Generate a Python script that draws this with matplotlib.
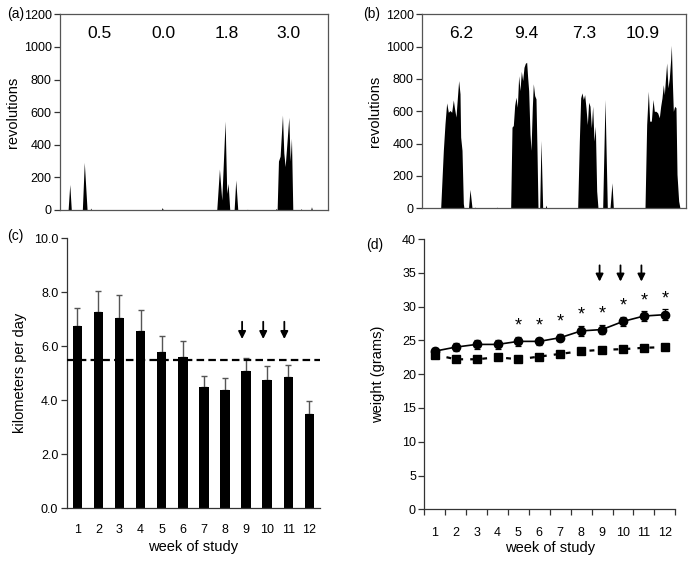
import matplotlib
matplotlib.use("Agg")
import matplotlib.pyplot as plt
import numpy as np

plt.rcParams["font.family"] = ["Liberation Sans", "DejaVu Sans"]

# (a) / (b): wheel revolutions over four days (outline vertices)
a_hours = [0, 2.9, 3.5, 4.05, 8.0, 8.7, 9.7, 10.8, 11.0, 11.3, 36.3, 36.6, 37.0,
           56.15, 57.11, 57.95, 59.14, 59.74, 60.22, 60.81, 62.37, 62.96, 63.68,
           66.9, 67.14, 67.4, 77.2, 77.42, 77.78, 78.26, 78.85, 79.69, 80.17, 80.65,
           81.24, 81.96, 82.44, 82.91, 83.39, 86.1, 86.38, 86.7, 89.8, 90.08, 90.4, 96]
a_revs = [0, 0, 157, 0, 0, 292, 0, 0, 12, 0, 0, 15, 0,
          0, 251, 61, 545, 102, 163, 0, 0, 184, 0,
          0, 5, 0, 0, 10, 0, 300, 330, 582, 350, 266,
          400, 568, 300, 440, 0, 0, 8, 0, 0, 20, 0, 0]
a_daily = ["0.5", "0.0", "1.8", "3.0"]
a_daily_at = [14.3, 36.9, 59.9, 81.7]

b_hours = [0, 6.79, 7.76, 8.36, 8.97, 9.58, 10.18, 10.79, 11.39, 11.76, 12.36, 12.85,
           13.33, 13.82, 14.06, 14.55, 15.03, 15.27, 16.9, 17.45, 18.2, 19.0, 19.3, 19.6,
           27.0, 27.2, 27.5,
           32.24, 32.73, 33.21, 33.70, 34.18, 34.67, 35.15, 35.64, 36.12, 36.61, 37.09,
           37.58, 38.06, 38.42, 38.79, 39.27, 39.64, 40.12, 40.48, 40.97, 41.45, 41.82,
           42.18, 42.79, 43.27, 43.88, 44.8, 45.1, 45.4,
           56.61, 57.21, 57.70, 58.18, 58.67, 59.15, 59.64, 60.12, 60.61, 61.09, 61.58,
           62.06, 62.55, 63.03, 63.52, 64.00, 65.70, 66.55, 67.39, 68.36, 69.09, 69.58,
           81.09, 81.70, 82.30, 82.79, 83.39, 84.00, 84.48, 85.09, 85.70, 86.30, 86.79,
           87.27, 87.76, 88.12, 88.61, 88.97, 89.45, 89.94, 90.42, 90.67, 91.03, 91.39,
           91.88, 92.36, 92.73, 93.33, 93.82, 96]
b_revs = [0, 0, 358, 522, 652, 594, 605, 594, 670, 625, 564, 680,
          790, 708, 440, 358, 29, 0, 0, 117, 0, 0, 8, 0,
          0, 8, 0,
          0, 502, 512, 636, 687, 625, 820, 728, 847, 790, 872,
          897, 903, 810, 728, 461, 358, 625, 770, 697, 677, 358,
          0, 0, 420, 0, 0, 20, 0,
          0, 415, 683, 714, 673, 703, 621, 518, 656, 631, 498,
          631, 415, 508, 107, 0, 0, 673, 0, 0, 158, 0,
          0, 518, 724, 539, 539, 673, 600, 600, 590, 560, 631,
          683, 765, 703, 817, 899, 745, 806, 920, 1008, 786, 600,
          631, 621, 210, 45, 0, 0]
b_daily = ["6.2", "9.4", "7.3", "10.9"]
b_daily_at = [14.2, 37.8, 58.8, 80.3]

# (c): running distance per week
weeks = np.arange(1, 13)
km_mean = [6.75, 7.27, 7.05, 6.57, 5.78, 5.62, 4.48, 4.37, 5.09, 4.74, 4.85, 3.49]
km_top = [7.43, 8.06, 7.91, 7.35, 6.37, 6.21, 4.90, 4.84, 5.58, 5.27, 5.32, 3.98]
km_reference = 5.49
arrow_weeks = [9, 10, 11]

# (d): body weight
wt_circle = [23.4, 24.0, 24.4, 24.4, 24.85, 24.85, 25.4, 26.4, 26.6, 27.8, 28.6, 28.8]
wt_circle_err = [0.4, 0.6, 0.7, 0.7, 0.7, 0.5, 0.5, 0.7, 0.7, 0.7, 0.7, 0.8]
wt_square = [22.9, 22.2, 22.2, 22.5, 22.2, 22.6, 23.0, 23.4, 23.6, 23.7, 23.9, 24.0]
star_weeks = [5, 6, 7, 8, 9, 10, 11, 12]

W, H = 692, 563
fig = plt.figure(figsize=(W / 100, H / 100), dpi=100)


def box(l, t, r, b):
    return [l / W, 1 - b / H, (r - l) / W, (b - t) / H]


spine_c = "#333333"
tick_fs = 9
lab_fs = 10.5


def activity(ax, hours, revs, daily, daily_at):
    ax.fill_between(hours, revs, 0, color="k", lw=0)
    ax.set_xlim(0, 96)
    ax.set_ylim(0, 1200)
    ax.set_xticks([])
    ax.set_yticks(range(0, 1201, 200))
    ax.tick_params(axis="y", direction="out", length=4, width=0.9, labelsize=tick_fs,
                   color=spine_c, pad=2)
    for s in ax.spines.values():
        s.set_color("#555555")
        s.set_linewidth(0.9)
    ax.set_ylabel("revolutions", fontsize=lab_fs, labelpad=3)
    for txt, x in zip(daily, daily_at):
        ax.text(x, 1080, txt, ha="center", va="center", fontsize=12.5)


ax_a = fig.add_axes(box(60, 14.3, 328, 210))
activity(ax_a, a_hours, a_revs, a_daily, a_daily_at)
ax_b = fig.add_axes(box(422, 14.3, 686, 208.3))
activity(ax_b, b_hours, b_revs, b_daily, b_daily_at)

arrow_props = dict(arrowstyle="-|>", color="k", lw=1.3, mutation_scale=11,
                   shrinkA=0, shrinkB=0)

# (c)
ax_c = fig.add_axes(box(66.7, 238.3, 320, 508.3))
err_c = np.array(km_top) - np.array(km_mean)
ax_c.bar(weeks, km_mean, width=0.45, color="k", zorder=2)
ax_c.errorbar(weeks, km_mean, yerr=[np.zeros(12), err_c], fmt="none", ecolor="#555555",
              elinewidth=1, capsize=2.5, capthick=1, zorder=1)
ax_c.axhline(km_reference, color="k", lw=1.6, dashes=(3.4, 1.9), zorder=3)
for w in arrow_weeks:
    ax_c.annotate("", xy=(w - 0.19, 6.27), xytext=(w - 0.19, 6.91),
                  arrowprops=arrow_props)
ax_c.set_xlim(0.5, 12.5)
ax_c.set_ylim(0, 10)
ax_c.set_yticks(np.arange(0, 10.1, 2))
ax_c.set_yticklabels([f"{v:.1f}" for v in np.arange(0, 10.1, 2)])
ax_c.set_xticks(weeks)
ax_c.tick_params(axis="x", length=0, labelsize=tick_fs, pad=11.5)
ax_c.tick_params(axis="y", direction="out", length=4, width=0.9, labelsize=tick_fs,
                 color=spine_c, pad=2)
ax_c.set_ylabel("kilometers per day", fontsize=lab_fs, labelpad=5)
ax_c.set_xlabel("week of study", fontsize=lab_fs, labelpad=3)

# (d)
ax_d = fig.add_axes(box(424.3, 239, 675.3, 509.3))
ax_d.errorbar(weeks, wt_circle, yerr=wt_circle_err, color="k", lw=1.2, marker="o",
              ms=6, elinewidth=0.9, capsize=2.5, capthick=0.9, zorder=3)
ax_d.plot(weeks, wt_square, color="k", lw=1.6, dashes=(2.2, 3.2), marker="s", ms=5.5,
          zorder=2)
for w in star_weeks:
    ax_d.text(w, wt_circle[w - 1] + 2.3, "*", ha="center", va="center", fontsize=13)
for w in arrow_weeks:
    ax_d.annotate("", xy=(w - 0.12, 33.7), xytext=(w - 0.12, 36.1),
                  arrowprops=arrow_props)
ax_d.set_xlim(0.5, 12.5)
ax_d.set_ylim(0, 40)
ax_d.set_yticks(range(0, 41, 5))
ax_d.set_xticks(weeks)
ax_d.set_xticks(np.arange(0.5, 12.6, 1), minor=True)
ax_d.tick_params(axis="x", which="major", length=0, labelsize=tick_fs, pad=13)
ax_d.tick_params(axis="x", which="minor", direction="out", length=4, width=0.9,
                 color=spine_c)
ax_d.tick_params(axis="y", direction="out", length=4, width=0.9, labelsize=tick_fs,
                 color=spine_c, pad=2)
ax_d.set_ylabel("weight (grams)", fontsize=lab_fs, labelpad=12)
ax_d.set_xlabel("week of study", fontsize=lab_fs, labelpad=1)

for ax in (ax_c, ax_d):
    ax.spines["top"].set_visible(False)
    ax.spines["right"].set_visible(False)
    for s in ("left", "bottom"):
        ax.spines[s].set_color(spine_c)
        ax.spines[s].set_linewidth(0.9)

for txt, x, y in [("(a)", 7, 14), ("(b)", 363, 14), ("(c)", 7, 236), ("(d)", 366, 245)]:
    fig.text(x / W, 1 - y / H, txt, ha="left", va="center", fontsize=10)

fig.savefig("out.png", dpi=100)
